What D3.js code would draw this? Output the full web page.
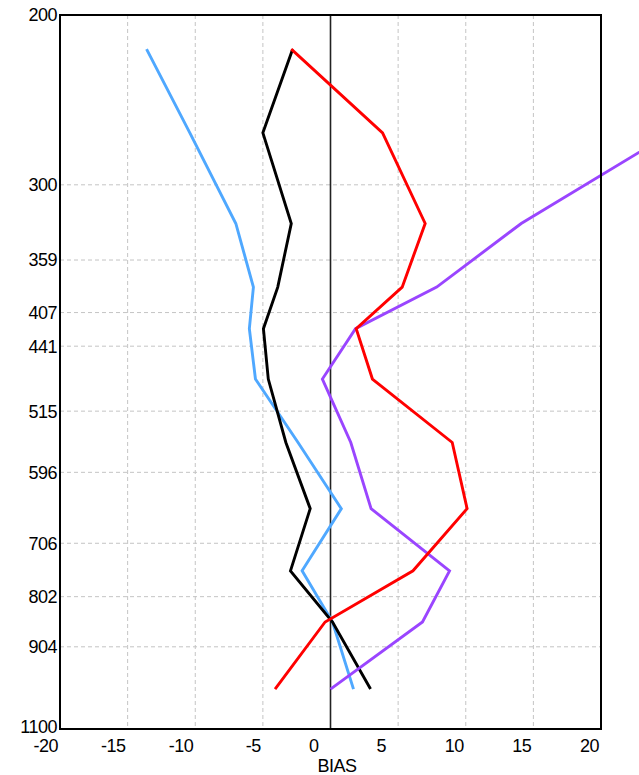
<!DOCTYPE html>
<html>
<head>
<meta charset="utf-8">
<script src="https://cdn.jsdelivr.net/npm/d3@7"></script>
<style>
  body { margin: 0; background: #fff; }
  text { font-family: "Liberation Sans", Arial, sans-serif; font-size: 18px; fill: #000; letter-spacing: -0.5px; }
</style>
</head>
<body>
<div class="chart-box"></div>
<script>
let width = 639;
let height = 775;

// pressure levels of the profile points (hPa)
let levels = [217, 265, 329, 383, 423, 477, 555, 650, 754, 852, 1000];
// bias profiles
let blackBias  = [-2.8, -5.0, -2.9, -3.9, -4.96, -4.6, -3.3, -1.5, -2.96, 0.15, 2.96];
let blueBias   = [-13.6, -10.4, -7.0, -5.7, -6.0, -5.55, -2.4, 0.8, -2.1, 0.15, 1.7];
let redBias    = [-2.9, 3.85, 7.0, 5.3, 1.9, 3.1, 9.0, 10.1, 6.1, -0.4, -4.1];
let purpleBias = [32, 25.2, 14.1, 7.85, 1.85, -0.6, 1.5, 3.0, 8.8, 6.8, 0.0];

let yTicks = [200, 300, 359, 407, 441, 515, 596, 706, 802, 904, 1100];
let xTicks = [-20, -15, -10, -5, 0, 5, 10, 15, 20];

let series = [
  {values: blueBias, color: '#4fa8ff'},
  {values: blackBias, color: '#000000'},
  {values: purpleBias, color: '#9a45ff'},
  {values: redBias, color: '#ff0000'}
];

let frame = {left: 60, right: 601, top: 15, bottom: 729};

let svg = d3.select('.chart-box')
  .append('svg')
  .attr('width', width)
  .attr('height', height);

let x = d3.scaleLinear().domain([-20, 20]).range([frame.left, frame.right]);
let y = d3.scaleLog().domain([200, 1100]).range([frame.top, frame.bottom]);

// grid
svg.append('g')
  .selectAll('line')
  .data(xTicks.filter(function (d) { return d > -20 && d < 20 && d !== 0; }))
  .enter()
  .append('line')
  .attr('x1', function (d) { return x(d); })
  .attr('x2', function (d) { return x(d); })
  .attr('y1', frame.top)
  .attr('y2', frame.bottom)
  .attr('stroke', '#c4c4c4')
  .attr('stroke-dasharray', '4,3');

svg.append('g')
  .selectAll('line')
  .data(yTicks.filter(function (d) { return d > 200 && d < 1100; }))
  .enter()
  .append('line')
  .attr('x1', frame.left)
  .attr('x2', frame.right)
  .attr('y1', function (d) { return y(d); })
  .attr('y2', function (d) { return y(d); })
  .attr('stroke', '#c4c4c4')
  .attr('stroke-dasharray', '4,3');

// zero line
svg.append('line')
  .attr('x1', x(0)).attr('x2', x(0))
  .attr('y1', frame.top).attr('y2', frame.bottom)
  .attr('stroke', '#222')
  .attr('stroke-width', 1.6);

// profiles (not clipped to the frame)
let line = d3.line()
  .x(function (d) { return x(d[0]); })
  .y(function (d) { return y(d[1]); });

svg.append('g')
  .selectAll('path')
  .data(series)
  .enter()
  .append('path')
  .attr('d', function (s) { return line(d3.zip(s.values, levels)); })
  .attr('fill', 'none')
  .attr('stroke', function (s) { return s.color; })
  .attr('stroke-width', 2.9)
  .attr('stroke-linejoin', 'miter');

// frame
svg.append('rect')
  .attr('x', frame.left).attr('y', frame.top)
  .attr('width', frame.right - frame.left).attr('height', frame.bottom - frame.top)
  .attr('fill', 'none')
  .attr('stroke', '#000')
  .attr('stroke-width', 2);

// y labels
svg.append('g')
  .selectAll('text')
  .data(yTicks)
  .enter()
  .append('text')
  .attr('x', frame.left - 3)
  .attr('y', function (d) { return d === 1100 ? y(d) - 2 : y(d); })
  .attr('dy', '0.36em')
  .attr('text-anchor', 'end')
  .text(function (d) { return d; });

// x labels
svg.append('g')
  .selectAll('text')
  .data(xTicks)
  .enter()
  .append('text')
  .attr('x', function (d) { return x(d) - (String(d).length === 1 ? 12 : 2); })
  .attr('y', 752)
  .attr('text-anchor', 'end')
  .text(function (d) { return d; });

svg.append('text')
  .attr('x', 337)
  .attr('y', 772)
  .attr('text-anchor', 'middle')
  .text('BIAS');
</script>
</body>
</html>
